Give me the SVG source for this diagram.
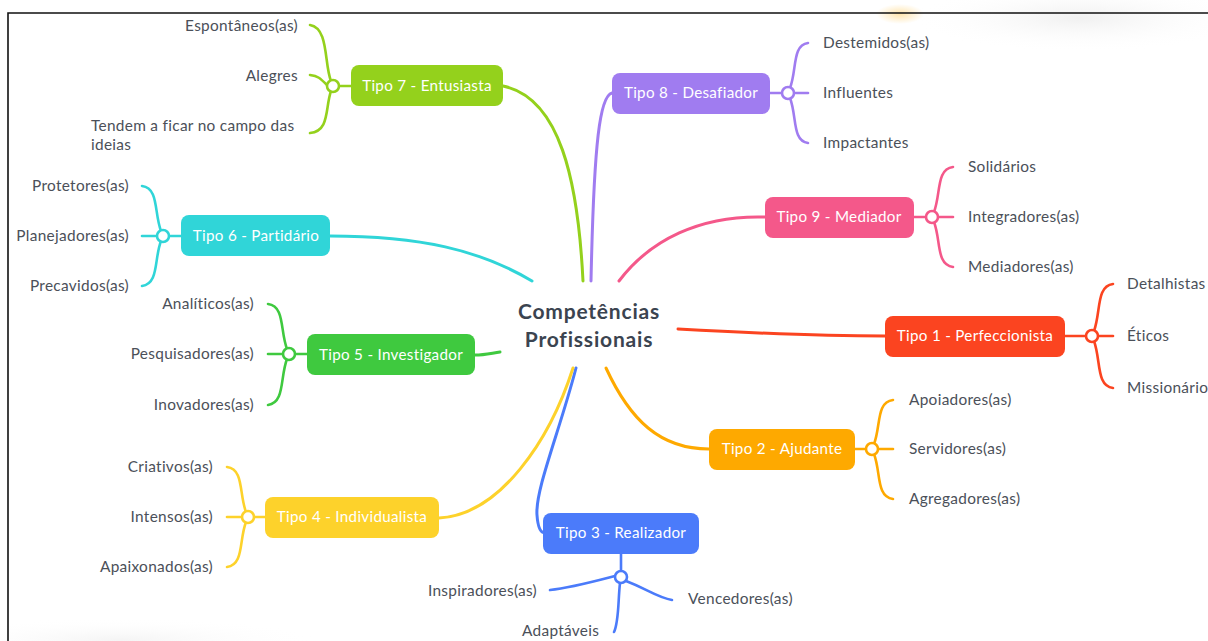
<svg xmlns="http://www.w3.org/2000/svg" width="1208" height="641" viewBox="0 0 1208 641">
  <defs>
    <radialGradient id="glow" cx="0.5" cy="0.5" r="0.5">
      <stop offset="0" stop-color="#ffcf6a" stop-opacity="0.55"/>
      <stop offset="1" stop-color="#ffcf6a" stop-opacity="0"/>
    </radialGradient>
    <radialGradient id="haze" cx="0.5" cy="0.5" r="0.5">
      <stop offset="0" stop-color="#e6e6e6" stop-opacity="0.6"/>
      <stop offset="1" stop-color="#ffffff" stop-opacity="0"/>
    </radialGradient>
    <style>
      .leaf { font-family: Lato, "Liberation Sans", sans-serif; font-size: 15.4px; letter-spacing: 0.3px; fill: #4b5059; }
      .lbl { font-family: Lato, "Liberation Sans", sans-serif; font-size: 15.2px; letter-spacing: 0.3px; fill: #ffffff; text-anchor: middle; }
      .end { text-anchor: end; }
      .core { font-family: Lato, "Liberation Sans", sans-serif; font-size: 21px; font-weight: 700; fill: #3b4450; text-anchor: middle; letter-spacing: 0.8px; }
      .main { fill: none; stroke-width: 3; stroke-linecap: round; }
      .br { fill: none; stroke-width: 2.6; stroke-linecap: round; }
      .hub { fill: #ffffff; stroke-width: 2.6; }
    </style>
  </defs>

  <rect width="1208" height="641" fill="#ffffff"/>
  <!-- soft page haze and warm glow along the top edge -->
  <ellipse cx="1080" cy="18" rx="170" ry="34" fill="url(#haze)"/>
  <ellipse cx="120" cy="640" rx="200" ry="22" fill="url(#haze)" opacity="0.7"/>
  <ellipse cx="900" cy="14" rx="24" ry="10" fill="url(#glow)"/>

  <!-- frame -->
  <path d="M8,641 V13 H1208" fill="none" stroke="#111111" stroke-width="1.6"/>

  <!-- connectors -->
  <g id="connectors">
    <path class="main" stroke="#94d11c" d="M503,86 C560,98 578,180 583,281"/>
    <path class="main" stroke="#a07cf0" d="M612,93 C600,96 594,140 591,281"/>
    <path class="main" stroke="#f4588a" d="M619,281 C650,240 700,215 765,217"/>
    <path class="main" stroke="#30d5d8" d="M330,236 C420,236 480,250 532,281"/>
    <path class="main" stroke="#3fc93f" d="M475,355 C485,355 492,353 500,352"/>
    <path class="main" stroke="#fb4420" d="M678,329 C750,333 820,336 885,336"/>
    <path class="main" stroke="#fea900" d="M606,368 C630,420 660,449 709,449"/>
    <path class="main" stroke="#4b7bfa" d="M576,368 C560,430 535,490 537,515 C538,530 542,533 545,533"/>
    <path class="main" stroke="#fdd22b" d="M573,368 C550,440 500,515 439,518"/>
  </g>

  <!-- central topic -->
  <g id="center">
    <text class="core" x="589" y="319">Competências</text>
    <text class="core" x="589" y="347">Profissionais</text>
  </g>

  <!-- Tipo 7 -->
  <g id="tipo7">
    <g stroke="#94d11c">
      <path class="br" d="M351,86 H339"/>
      <path class="br" d="M331,81 C324,64 329,28 310,25"/>
      <path class="br" d="M327,85 C320,78 318,76 310,75"/>
      <path class="br" d="M331,91 C325,108 330,131 310,133"/>
      <circle class="hub" cx="333" cy="86" r="6"/>
    </g>
    <rect x="351" y="65" width="152" height="41" rx="8" fill="#94d11c"/>
    <text class="lbl" x="427" y="91">Tipo 7 - Entusiasta</text>
    <text class="leaf end" x="298" y="31">Espontâneos(as)</text>
    <text class="leaf end" x="298" y="81">Alegres</text>
    <text class="leaf" x="91" y="131">Tendem a ficar no campo das</text>
    <text class="leaf" x="91" y="150">ideias</text>
  </g>

  <!-- Tipo 8 -->
  <g id="tipo8">
    <g stroke="#a07cf0">
      <path class="br" d="M770,93 H782"/>
      <path class="br" d="M790,88 C797,70 792,45 808,43"/>
      <path class="br" d="M794,93 H808"/>
      <path class="br" d="M790,98 C797,116 792,141 808,143"/>
      <circle class="hub" cx="788" cy="93" r="6"/>
    </g>
    <rect x="612" y="73" width="158" height="41" rx="8" fill="#a07cf0"/>
    <text class="lbl" x="691" y="98">Tipo 8 - Desafiador</text>
    <text class="leaf" x="823" y="48">Destemidos(as)</text>
    <text class="leaf" x="823" y="98">Influentes</text>
    <text class="leaf" x="823" y="148">Impactantes</text>
  </g>

  <!-- Tipo 9 -->
  <g id="tipo9">
    <g stroke="#f4588a">
      <path class="br" d="M914,217 H926"/>
      <path class="br" d="M934,212 C941,194 936,169 953,167"/>
      <path class="br" d="M938,217 H953"/>
      <path class="br" d="M934,222 C941,240 936,265 953,267"/>
      <circle class="hub" cx="932" cy="217" r="6"/>
    </g>
    <rect x="765" y="197" width="149" height="41" rx="8" fill="#f4588a"/>
    <text class="lbl" x="839" y="222">Tipo 9 - Mediador</text>
    <text class="leaf" x="968" y="172">Solidários</text>
    <text class="leaf" x="968" y="222">Integradores(as)</text>
    <text class="leaf" x="968" y="272">Mediadores(as)</text>
  </g>

  <!-- Tipo 6 -->
  <g id="tipo6">
    <g stroke="#30d5d8">
      <path class="br" d="M181,236 H169"/>
      <path class="br" d="M161,231 C154,213 159,188 142,186"/>
      <path class="br" d="M157,236 H142"/>
      <path class="br" d="M161,241 C154,259 159,284 142,286"/>
      <circle class="hub" cx="163" cy="236" r="6"/>
    </g>
    <rect x="181" y="215" width="149" height="41" rx="8" fill="#30d5d8"/>
    <text class="lbl" x="256" y="241">Tipo 6 - Partidário</text>
    <text class="leaf end" x="129" y="191">Protetores(as)</text>
    <text class="leaf end" x="129" y="241">Planejadores(as)</text>
    <text class="leaf end" x="129" y="291">Precavidos(as)</text>
  </g>

  <!-- Tipo 5 -->
  <g id="tipo5">
    <g stroke="#3fc93f">
      <path class="br" d="M307,354 H295"/>
      <path class="br" d="M287,349 C280,331 285,306 268,304"/>
      <path class="br" d="M283,354 H268"/>
      <path class="br" d="M287,359 C280,377 285,403 268,405"/>
      <circle class="hub" cx="289" cy="354" r="6"/>
    </g>
    <rect x="307" y="334" width="168" height="41" rx="8" fill="#3fc93f"/>
    <text class="lbl" x="391" y="360">Tipo 5 - Investigador</text>
    <text class="leaf end" x="254" y="309">Analíticos(as)</text>
    <text class="leaf end" x="254" y="359">Pesquisadores(as)</text>
    <text class="leaf end" x="254" y="410">Inovadores(as)</text>
  </g>

  <!-- Tipo 1 -->
  <g id="tipo1">
    <g stroke="#fb4420">
      <path class="br" d="M1065,336 H1086"/>
      <path class="br" d="M1094,331 C1101,312 1096,286 1113,284"/>
      <path class="br" d="M1098,336 H1113"/>
      <path class="br" d="M1094,341 C1101,360 1096,386 1113,388"/>
      <circle class="hub" cx="1092" cy="336" r="6"/>
    </g>
    <rect x="885" y="316" width="180" height="41" rx="8" fill="#fb4420"/>
    <text class="lbl" x="975" y="341">Tipo 1 - Perfeccionista</text>
    <text class="leaf" x="1127" y="289">Detalhistas</text>
    <text class="leaf" x="1127" y="341">Éticos</text>
    <text class="leaf" x="1127" y="393">Missionário</text>
  </g>

  <!-- Tipo 2 -->
  <g id="tipo2">
    <g stroke="#fea900">
      <path class="br" d="M855,449 H866"/>
      <path class="br" d="M874,444 C881,426 876,402 893,400"/>
      <path class="br" d="M878,449 H893"/>
      <path class="br" d="M874,454 C881,472 876,497 893,499"/>
      <circle class="hub" cx="872" cy="449" r="6"/>
    </g>
    <rect x="709" y="429" width="146" height="41" rx="8" fill="#fea900"/>
    <text class="lbl" x="782" y="454">Tipo 2 - Ajudante</text>
    <text class="leaf" x="909" y="405">Apoiadores(as)</text>
    <text class="leaf" x="909" y="454">Servidores(as)</text>
    <text class="leaf" x="909" y="504">Agregadores(as)</text>
  </g>

  <!-- Tipo 4 -->
  <g id="tipo4">
    <g stroke="#fdd22b">
      <path class="br" d="M265,517 H254"/>
      <path class="br" d="M246,512 C239,494 244,469 227,467"/>
      <path class="br" d="M242,517 H227"/>
      <path class="br" d="M246,522 C239,540 244,565 227,567"/>
      <circle class="hub" cx="248" cy="517" r="6"/>
    </g>
    <rect x="265" y="497" width="174" height="41" rx="8" fill="#fdd22b"/>
    <text class="lbl" x="352" y="522">Tipo 4 - Individualista</text>
    <text class="leaf end" x="213" y="472">Criativos(as)</text>
    <text class="leaf end" x="213" y="522">Intensos(as)</text>
    <text class="leaf end" x="213" y="572">Apaixonados(as)</text>
  </g>

  <!-- Tipo 3 -->
  <g id="tipo3">
    <g stroke="#4b7bfa">
      <path class="br" d="M621,553 V571"/>
      <path class="br" d="M615,576 C592,582 570,588 550,590"/>
      <path class="br" d="M626,581 C645,588 658,598 672,600"/>
      <path class="br" d="M620,583 C618,600 619,622 614,632"/>
      <circle class="hub" cx="621" cy="577" r="6"/>
    </g>
    <rect x="543" y="513" width="156" height="41" rx="8" fill="#4b7bfa"/>
    <text class="lbl" x="621" y="538">Tipo 3 - Realizador</text>
    <text class="leaf end" x="537" y="596">Inspiradores(as)</text>
    <text class="leaf" x="688" y="604">Vencedores(as)</text>
    <text class="leaf" x="522" y="636">Adaptáveis</text>
  </g>
</svg>
